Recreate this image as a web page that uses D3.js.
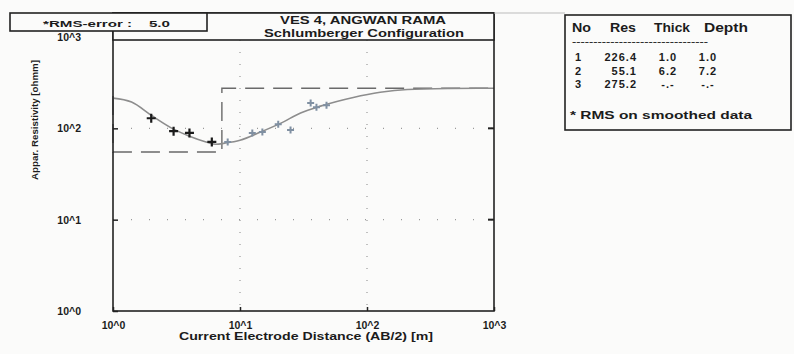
<!DOCTYPE html>
<html>
<head>
<meta charset="utf-8">
<script src="https://cdn.jsdelivr.net/npm/d3@7/dist/d3.min.js"></script>
<style>
  html, body { margin: 0; padding: 0; background: #fbfbfa; }
  svg { display: block; }
  text { font-family: "Liberation Sans", Arial, sans-serif; font-weight: bold; fill: #1c1c1c; white-space: pre; }
</style>
</head>
<body>
<svg id="chart" width="794" height="354"></svg>
<script>
// Axis decades and their labels
const decades = [1, 10, 100, 1000];
const decadeLabels = ["10^0", "10^1", "10^2", "10^3"];

// Layered earth model
const layerNo = [1, 2, 3];
const layerRes = [226.4, 55.1, 275.2];
const layerThick = ["1.0", "6.2", "-.-"];
const layerDepth = ["1.0", "7.2", "-.-"];
const depthValues = [1.0, 7.2];

// Field soundings, first branch (AB/2 in m, apparent resistivity in ohm-m)
const fieldAB1 = [2, 3, 4, 6];
const fieldRho1 = [129, 93, 89, 71];

// Field soundings, second branch
const fieldAB2 = [8, 12.5, 15, 20, 25, 36, 40, 48];
const fieldRho2 = [71, 89, 91, 111, 96, 189, 170, 179];

// Calculated sounding curve
const curveAB = [1, 1.4, 2, 3, 4, 5.4, 6.4, 7.7, 10, 14.5, 21, 30, 43, 78, 127, 208, 450, 1000];
const curveRho = [214, 194, 139, 98, 82, 71, 67, 69, 74, 91, 114, 147, 175, 218, 248, 266, 273, 275];

const svg = d3.select("#chart");
const L = 113, R = 494, B = 311, T = 37, TOP = 13;

const x = d3.scaleLog().domain([1, 1000]).range([L, R]);
const y = d3.scaleLog().domain([1, 1000]).range([B, T]);

// Dotted grid at inner decades
const g = svg.append("g");
g.selectAll("line.vg").data(decades.slice(1, 3)).join("line")
  .attr("x1", d => x(d)).attr("x2", d => x(d))
  .attr("y1", 40).attr("y2", B)
  .attr("stroke", "#999").attr("stroke-width", 1.2)
  .attr("stroke-dasharray", "1,11");
g.selectAll("line.hg").data(decades.slice(1, 3)).join("line")
  .attr("y1", d => y(d)).attr("y2", d => y(d))
  .attr("x1", L).attr("x2", R)
  .attr("stroke", "#999").attr("stroke-width", 1.2)
  .attr("stroke-dasharray", "1,17");

// Model step line
const stepPts = [[1, layerRes[0]], [depthValues[0], layerRes[0]], [depthValues[0], layerRes[1]],
  [depthValues[1], layerRes[1]], [depthValues[1], layerRes[2]], [1000, layerRes[2]]];
svg.append("path")
  .attr("d", d3.line().x(d => x(d[0])).y(d => y(d[1]))(stepPts))
  .attr("fill", "none").attr("stroke", "#6a6a6a").attr("stroke-width", 1.4)
  .attr("stroke-dasharray", "19,9");

// Calculated curve
svg.append("path")
  .attr("d", d3.line().curve(d3.curveMonotoneX)
    .x((d, i) => x(curveAB[i])).y(d => y(d))(curveRho))
  .attr("fill", "none").attr("stroke", "#8d8d8d").attr("stroke-width", 1.6);

// Field points as crosses
function crosses(ab, rho, color, size, w) {
  const s = size / 2;
  svg.append("g").selectAll("path").data(ab).join("path")
    .attr("d", (d, i) => {
      const cx = x(d), cy = y(rho[i]);
      return `M${cx - s},${cy}H${cx + s}M${cx},${cy - s}V${cy + s}`;
    })
    .attr("stroke", color).attr("stroke-width", w);
}
crosses(fieldAB1, fieldRho1, "#1a1a1a", 9, 2.2);
crosses(fieldAB2, fieldRho2, "#8090a2", 7, 2);

// Axes with inward ticks
const xAxis = d3.axisBottom(x).tickValues(decades)
  .tickFormat((d, i) => decadeLabels[i]).tickSizeInner(-4).tickSizeOuter(0).tickPadding(11);
const ax = svg.append("g").attr("transform", `translate(0,${B})`).call(xAxis);
ax.select(".domain").remove();
ax.selectAll("line").attr("stroke", "#222").attr("stroke-width", 1.5);
ax.selectAll("text").attr("font-size", 10.5).attr("fill", "#1c1c1c");

const yAxis = d3.axisLeft(y).tickValues(decades)
  .tickFormat((d, i) => decadeLabels[i]).tickSizeInner(-5).tickSizeOuter(0).tickPadding(32);
const ay = svg.append("g").attr("transform", `translate(${L},0)`).call(yAxis);
ay.select(".domain").remove();
ay.selectAll("line").attr("stroke", "#222").attr("stroke-width", 1.5);
ay.selectAll("text").attr("font-size", 10.5).attr("fill", "#1c1c1c");

// right-side inward ticks
svg.append("g").selectAll("line").data(decades.slice(1, 3)).join("line")
  .attr("x1", R - 6).attr("x2", R).attr("y1", d => y(d)).attr("y2", d => y(d))
  .attr("stroke", "#222").attr("stroke-width", 2);

// Plot frame and title box
svg.append("rect").attr("x", L).attr("y", TOP).attr("width", R - L).attr("height", B - TOP)
  .attr("fill", "none").attr("stroke", "#222").attr("stroke-width", 1.6);
svg.append("rect").attr("x", L).attr("y", TOP).attr("width", R - L).attr("height", 40 - TOP)
  .attr("fill", "#fbfbfa").attr("stroke", "#222").attr("stroke-width", 1.6);
svg.append("text").attr("x", 363).attr("y", 24).attr("text-anchor", "middle")
  .attr("font-size", 10.5).attr("textLength", 166).attr("lengthAdjust", "spacingAndGlyphs")
  .text("VES 4, ANGWAN RAMA");
svg.append("text").attr("x", 364).attr("y", 37).attr("text-anchor", "middle")
  .attr("font-size", 10.5).attr("textLength", 200).attr("lengthAdjust", "spacingAndGlyphs")
  .text("Schlumberger Configuration");

// RMS box
svg.append("rect").attr("x", 10).attr("y", TOP).attr("width", 197).attr("height", 18)
  .attr("fill", "#fbfbfa").attr("stroke", "#222").attr("stroke-width", 1.6);
svg.append("text").attr("x", 43).attr("y", 27).attr("font-size", 9.5)
  .attr("textLength", 127).attr("lengthAdjust", "spacingAndGlyphs")
  .text("*RMS-error :    5.0");

// faint connecting line along top
svg.append("line").attr("x1", R).attr("x2", 565).attr("y1", TOP).attr("y2", TOP)
  .attr("stroke", "#bbb").attr("stroke-width", 1);

// Axis titles
svg.append("text").attr("transform", "translate(38,120) rotate(-90)")
  .attr("text-anchor", "middle").attr("font-size", 8.5).attr("font-weight", "normal")
  .attr("textLength", 120).attr("lengthAdjust", "spacingAndGlyphs")
  .text("Appar. Resistivity [ohmm]");
svg.append("text").attr("x", 306).attr("y", 340).attr("text-anchor", "middle")
  .attr("font-size", 10.5).attr("textLength", 254).attr("lengthAdjust", "spacingAndGlyphs")
  .text("Current Electrode Distance (AB/2) [m]");

// Layer table
svg.append("rect").attr("x", 565).attr("y", 15).attr("width", 226).attr("height", 115)
  .attr("fill", "#fbfbfa").attr("stroke", "#222").attr("stroke-width", 1.6);
const tbl = svg.append("g").attr("font-size", 12);
[["No", 572, 19], ["Res", 610, 26], ["Thick", 654, 36], ["Depth", 704, 44]].forEach(([t, px, w]) =>
  tbl.append("text").attr("x", px).attr("y", 32)
    .attr("textLength", w).attr("lengthAdjust", "spacingAndGlyphs").text(t));
tbl.append("text").attr("x", 572).attr("y", 44).attr("font-size", 8)
  .attr("textLength", 136).attr("lengthAdjust", "spacingAndGlyphs")
  .text("--------------------------------");
const rowY = [61, 74.5, 88];
const rows = tbl.append("g").attr("font-size", 11);
layerNo.forEach((n, i) => {
  rows.append("text").attr("x", 578).attr("y", rowY[i]).attr("text-anchor", "middle").text(n);
  rows.append("text").attr("x", 637).attr("y", rowY[i]).attr("text-anchor", "end")
    .attr("letter-spacing", 1).text(layerRes[i].toFixed(1));
  rows.append("text").attr("x", 668).attr("y", rowY[i]).attr("text-anchor", "middle")
    .attr("letter-spacing", 1).text(layerThick[i]);
  rows.append("text").attr("x", 708).attr("y", rowY[i]).attr("text-anchor", "middle")
    .attr("letter-spacing", 1).text(layerDepth[i]);
});
tbl.append("text").attr("x", 570).attr("y", 119).attr("font-size", 11.5)
  .attr("textLength", 182).attr("lengthAdjust", "spacingAndGlyphs")
  .text("* RMS on smoothed data");
</script>
</body>
</html>
